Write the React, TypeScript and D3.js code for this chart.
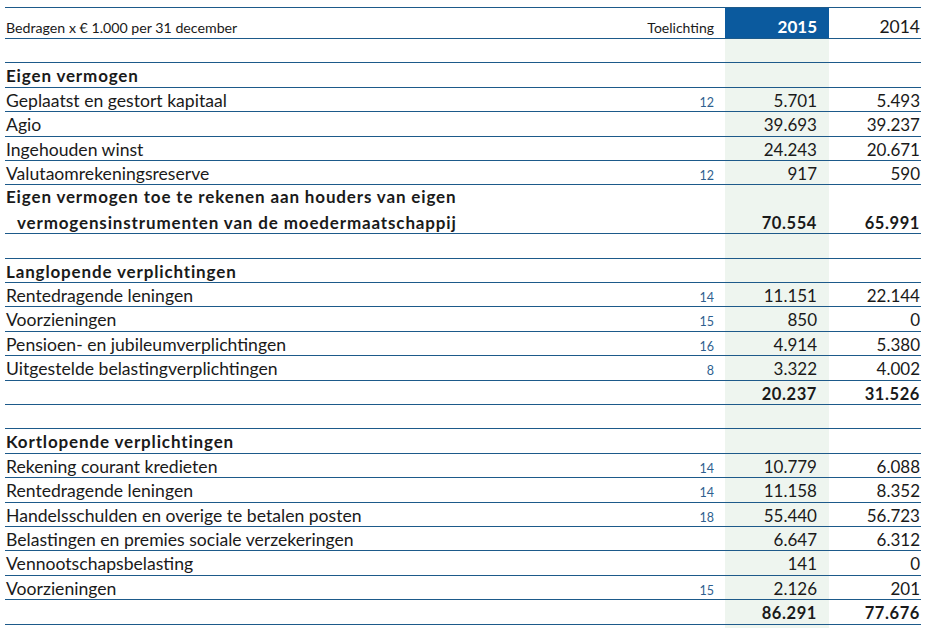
import React from "react";
import * as d3 from "d3";

// rows of the balance (kind: blank, section, item, double, total)
const rowKinds = [
  "blank", "section", "item", "item", "item", "item", "double",
  "blank", "section", "item", "item", "item", "item", "total",
  "blank", "section", "item", "item", "item", "item", "item", "item", "total",
];
const rowLabels = [
  "", "Eigen vermogen", "Geplaatst en gestort kapitaal", "Agio", "Ingehouden winst", "Valutaomrekeningsreserve",
  "Eigen vermogen toe te rekenen aan houders van eigen|vermogensinstrumenten van de moedermaatschappij",
  "", "Langlopende verplichtingen", "Rentedragende leningen", "Voorzieningen",
  "Pensioen- en jubileumverplichtingen", "Uitgestelde belastingverplichtingen", "",
  "", "Kortlopende verplichtingen", "Rekening courant kredieten", "Rentedragende leningen",
  "Handelsschulden en overige te betalen posten", "Belastingen en premies sociale verzekeringen",
  "Vennootschapsbelasting", "Voorzieningen", "",
];
const notes = [
  "", "", "12", "", "", "12", "",
  "", "", "14", "15", "16", "8", "",
  "", "", "14", "14", "18", "", "", "15", "",
];
const values2015 = [
  null, null, 5701, 39693, 24243, 917, 70554,
  null, null, 11151, 850, 4914, 3322, 20237,
  null, null, 10779, 11158, 55440, 6647, 141, 2126, 86291,
];
const values2014 = [
  null, null, 5493, 39237, 20671, 590, 65991,
  null, null, 22144, 0, 5380, 4002, 31526,
  null, null, 6088, 8352, 56723, 6312, 0, 201, 77676,
];
const headerLabels = ["Bedragen x € 1.000 per 31 december", "Toelichting", "2015", "2014"];

const W = 928;
const H = 628;
const lineColor = "#1d5a8a";
const blue = "#0b5a9e";
const green = "#eef5ef";
const font = "Lato, 'Open Sans', sans-serif";

const nl = d3.formatLocale({ decimal: ",", thousands: ".", grouping: [3], currency: ["€", ""] });
const fmt = nl.format(",d");

export default function App() {
  const left = 5;
  const right = 921;
  const colNote = 714;
  const col2015L = 725;
  const col2015R = 829;
  const col2015 = 817;
  const col2014 = 920;
  const headTop = 7;
  const headBottom = 38;
  const labelSize = 17.6;
  const boldSize = 17;
  const boldSpacing = 0.85;

  // cumulative row units -> pixel
  const units = rowKinds.map((k) => (k === "double" ? 2 : 1));
  const starts: number[] = [];
  let acc = 0;
  units.forEach((u) => {
    starts.push(acc);
    acc += u;
  });
  const y = d3.scaleLinear().domain([0, acc]).range([headBottom, headBottom + acc * 24.4]);

  return (
    <svg
      width={W}
      height={H}
      style={{ position: "absolute", left: 0, top: 0, background: "#fff" }}
      fontFamily={font}
    >
      <rect x={col2015L} y={headBottom} width={col2015R - col2015L} height={H - headBottom} fill={green} />
      <rect x={col2015L} y={headTop} width={col2015R - col2015L} height={headBottom - headTop} fill={blue} />
      <line x1={left} x2={right} y1={headTop + 0.5} y2={headTop + 0.5} stroke={lineColor} strokeWidth={1} />
      <line x1={left} x2={right} y1={headBottom + 0.5} y2={headBottom + 0.5} stroke={lineColor} strokeWidth={1} />
      <text x={left + 1} y={headBottom - 5} fontSize={14.2} fill="#1a1a1a">{headerLabels[0]}</text>
      <text x={colNote} y={headBottom - 5} fontSize={14} fill="#1a1a1a" textAnchor="end">{headerLabels[1]}</text>
      <text x={col2015} y={headBottom - 5} fontSize={17} fontWeight="bold" fill="#fff" textAnchor="end">{headerLabels[2]}</text>
      <text x={col2014} y={headBottom - 5} fontSize={17.5} fill="#1a1a1a" textAnchor="end">{headerLabels[3]}</text>

      {rowKinds.map((kind, i) => {
        const y0 = y(starts[i]);
        const y1 = y(starts[i] + units[i]);
        const base = y1 - 4.5;
        const bold = kind === "section" || kind === "double" || kind === "total";
        const v15 = values2015[i];
        const v14 = values2014[i];
        return (
          <g key={i}>
            <line x1={left} x2={right} y1={Math.round(y1) + 0.5} y2={Math.round(y1) + 0.5} stroke={lineColor} strokeWidth={1} />
            {kind === "double" ? (
              <>
                <text x={left + 1} y={y0 + 19} fontSize={boldSize} fontWeight="bold" letterSpacing={boldSpacing} fill="#1a1a1a">
                  {rowLabels[i].split("|")[0]}
                </text>
                <text x={left + 12} y={base} fontSize={boldSize} fontWeight="bold" letterSpacing={boldSpacing} fill="#1a1a1a">
                  {rowLabels[i].split("|")[1]}
                </text>
              </>
            ) : (
              <text
                x={left + 1}
                y={base}
                fontSize={kind === "section" ? boldSize : labelSize}
                fontWeight={kind === "section" ? "bold" : "normal"}
                letterSpacing={kind === "section" ? boldSpacing : 0}
                fill="#1a1a1a"
              >
                {rowLabels[i]}
              </text>
            )}
            {notes[i] && (
              <text x={colNote} y={base} fontSize={12.5} fill="#2f5f8f" textAnchor="end">{notes[i]}</text>
            )}
            {v15 !== null && (
              <text x={col2015} y={base} fontSize={bold ? 16.5 : 17} fontWeight={bold ? "bold" : "normal"} letterSpacing={bold ? 0.6 : 0} fill="#1a1a1a" textAnchor="end">
                {fmt(v15)}
              </text>
            )}
            {v14 !== null && (
              <text x={col2014} y={base} fontSize={bold ? 16.5 : 17} fontWeight={bold ? "bold" : "normal"} letterSpacing={bold ? 0.6 : 0} fill="#1a1a1a" textAnchor="end">
                {fmt(v14)}
              </text>
            )}
          </g>
        );
      })}
    </svg>
  );
}
